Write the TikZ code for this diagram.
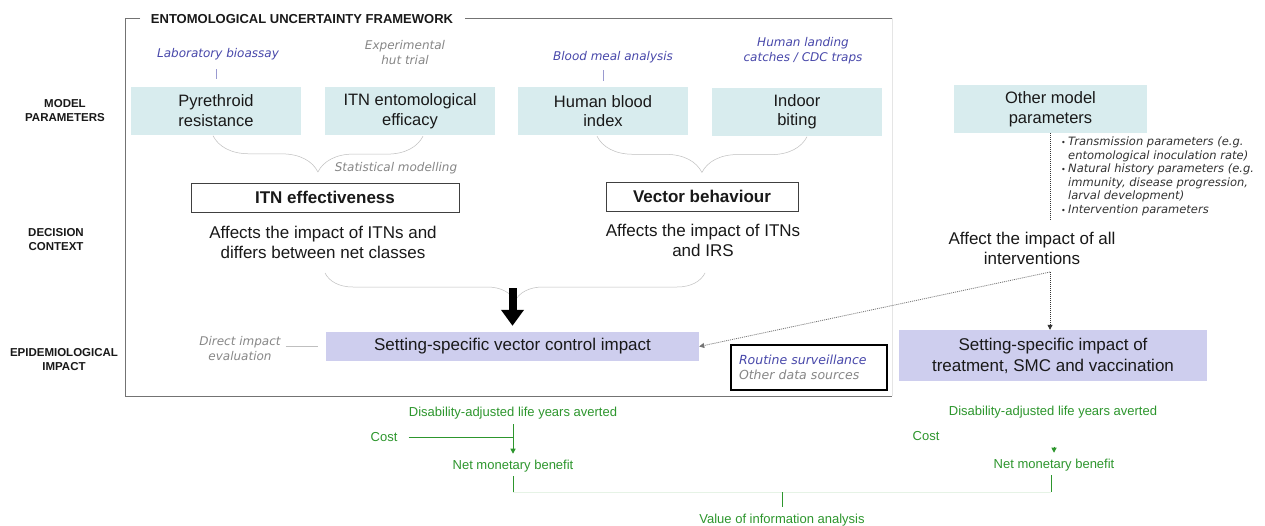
\documentclass[tikz,border=0pt]{standalone}
\usepackage{fontspec}
\setmainfont{Liberation Sans}
\newfontfamily\dv{DejaVu Sans}[ItalicFont={DejaVu Sans Oblique}]
\usetikzlibrary{arrows.meta,decorations.pathreplacing,calc}
\definecolor{parcol}{RGB}{216,236,238}
\definecolor{impcol}{RGB}{206,206,238}
\definecolor{bluetxt}{RGB}{72,72,170}
\definecolor{graytxt}{RGB}{135,135,135}
\definecolor{grn}{RGB}{45,150,45}
\definecolor{txt}{RGB}{25,25,25}
\begin{document}
\begin{tikzpicture}[x=1pt,y=-1pt,
  every node/.style={inner sep=0pt, text=txt},
  parbox/.style={fill=parcol, minimum width=170pt, minimum height=48pt, align=center, font=\fontsize{16.5}{19.5}\selectfont},
  impbox/.style={fill=impcol, align=center, font=\fontsize{17}{21}\selectfont},
  ctxbox/.style={draw=black!75, line width=0.9pt, fill=white, minimum height=29pt, font=\bfseries\fontsize{17}{20}\selectfont},
  ctxtxt/.style={align=center, font=\fontsize{17}{20}\selectfont},
  bluelab/.style={align=center, text=bluetxt, font=\dv\itshape\fontsize{12}{15}\selectfont},
  graylab/.style={align=center, text=graytxt, font=\dv\itshape\fontsize{12}{15}\selectfont},
  rowlab/.style={align=center, font=\bfseries\fontsize{11.5}{14}\selectfont},
  grntxt/.style={text=grn, font=\fontsize{13}{15}\selectfont},
  grnline/.style={draw=grn, line width=1pt},
  grnarrow/.style={grnline, -{Triangle[width=5pt,length=5pt]}},
  bracestyle/.style={draw=black!25, line width=0.5pt, decorate},
  dotline/.style={draw=black!80, line width=0.8pt, dash pattern=on 1pt off 1pt},
  dotarrow/.style={dotline, -{Triangle[width=5pt,length=5pt]}},
]
\useasboundingbox (0,0) rectangle (1265,525);
\fill[white] (0,0) rectangle (1265,525);

% frame
\draw[black!55, line width=0.9pt] (140,18) -- (125,18) -- (125,396) -- (892,396);
\draw[black!55, line width=0.9pt] (465,18) -- (892,18);
\draw[black!10, line width=0.9pt] (892,18) -- (892,396);
\node[font=\bfseries\fontsize{13}{15}\selectfont] (title) at (302,19) {ENTOMOLOGICAL UNCERTAINTY FRAMEWORK};

% row labels
\node[rowlab] (rl1) at (65,110.5) {MODEL\\PARAMETERS};
\node[rowlab] (rl2) at (56,239.5) {DECISION\\CONTEXT};
\node[rowlab] (rl3) at (64,359.5) {EPIDEMIOLOGICAL\\IMPACT};

% parameter boxes
\node[parbox] (pyr) at (216,110.5) {Pyrethroid\\resistance};
\node[parbox] (eff) at (410,111) {ITN entomological\\efficacy};
\node[parbox] (hbi) at (603,111) {Human blood\\index};
\node[parbox] (ind) at (797,111.5) {Indoor\\biting};
\node[parbox, minimum width=193pt] (oth) at (1050.5,109) {Other model\\parameters};

% data sources
\node[bluelab] (lab) at (218,54) {Laboratory bioassay};
\node[graylab] (exp) at (405,52.5) {Experimental\\hut trial};
\node[bluelab] (bma) at (613,57) {Blood meal analysis};
\node[bluelab] (hlc) at (803,50.5) {Human landing\\catches / CDC traps};
\draw[draw=bluetxt!55, line width=0.9pt, shorten <=9pt, shorten >=7pt] (lab.south -| pyr.north) -- (pyr.north);
\draw[draw=bluetxt!55, line width=0.9pt, shorten <=7pt, shorten >=6pt] (bma.south -| hbi.north) -- (hbi.north);

% braces
\draw[bracestyle, decoration={brace, mirror, amplitude=36pt}] ([xshift=-3pt,yshift=-1pt]pyr.south) -- ([xshift=13pt,yshift=-1pt]eff.south);
\draw[bracestyle, decoration={brace, mirror, amplitude=36pt}] ([xshift=-6pt,yshift=-1pt]hbi.south) -- ([xshift=10pt,yshift=-1pt]ind.south);
\node[graylab] (stat) at (396,168) {Statistical modelling};

% decision context
\node[ctxbox, minimum width=268pt] (itn) at (325,197.5) {ITN effectiveness};
\node[ctxbox, minimum width=192pt] (vb) at (702,196.5) {Vector behaviour};
\node[ctxtxt] (itntxt) at (323,242) {Affects the impact of ITNs and\\differs between net classes};
\node[ctxtxt] (vbtxt) at (703,240) {Affects the impact of ITNs\\and IRS};
\coordinate (bl) at (325,273);
\coordinate (br) at (705,273);
\draw[bracestyle, decoration={brace, mirror, amplitude=28pt}] (bl) -- (br);

% epidemiological impact
\node[impbox, minimum width=373pt, minimum height=29pt] (vc) at (512.5,346.5) {Setting-specific vector control impact};
\coordinate (bt) at (512.5,288);
\draw[line width=8pt, -{Triangle[width=22pt,length=16pt]}, black] (bt) -- ([yshift=6pt]vc.north);
\node[graylab] (die) at (240,348.5) {Direct impact\\evaluation};
\draw[black!25, line width=0.9pt, shorten <=5pt, shorten >=8pt] (die.east |- vc.west) -- (vc.west);
\node[draw=black, line width=2pt, minimum height=45pt, text width=140pt, align=left, inner xsep=8pt, font=\dv\itshape\fontsize{12.5}{15}\selectfont] (rs) at (809,367.5) {\textcolor{bluetxt}{Routine surveillance}\\\textcolor{graytxt}{Other data sources}};

% right column
\coordinate (othend) at (1050.5,220);
\draw[dotline] (oth.south) -- (othend);
\node[anchor=north west, align=left, text=black!80, font=\dv\itshape\fontsize{11.5}{13.5}\selectfont] (bul) at (1061,137) {%
\makebox[7pt][l]{\upshape\fontsize{8}{8}\selectfont •}Transmission parameters (e.g.\\
\hspace*{7pt}entomological inoculation rate)\\
\makebox[7pt][l]{\upshape\fontsize{8}{8}\selectfont •}Natural history parameters (e.g.\\
\hspace*{7pt}immunity, disease progression,\\
\hspace*{7pt}larval development)\\
\makebox[7pt][l]{\upshape\fontsize{8}{8}\selectfont •}Intervention parameters};
\node[ctxtxt] (aff) at (1032,248) {Affect the impact of all\\interventions};
\coordinate (affpt) at (1050,272);
\node[impbox, minimum width=308pt, minimum height=51pt] (tr) at (1053,355.5) {Setting-specific impact of\\treatment, SMC and vaccination};
\draw[dotarrow, draw=black!55] (affpt) -- (vc.east);
\draw[dotarrow] (affpt) -- (affpt |- tr.north);

% green economics
\node[grntxt] (daly1) at (513,413) {Disability-adjusted life years averted};
\node[grntxt] (cost1) at (384,437) {Cost};
\node[grntxt] (nmb1) at (513,466) {Net monetary benefit};
\draw[grnline, shorten <=11pt] (cost1.east) -- (cost1.east -| daly1.south);
\draw[grnarrow, shorten <=5pt, shorten >=6pt] (daly1.south) -- (nmb1.north);
\node[grntxt] (daly2) at (1053,412) {Disability-adjusted life years averted};
\node[grntxt] (cost2) at (926,436) {Cost};
\node[grntxt] (nmb2) at (1054,465) {Net monetary benefit};
\draw[grnarrow] ([yshift=12pt]nmb2.north) -- ([yshift=6pt]nmb2.north);
\coordinate (j1) at (513,492);
\coordinate (j2) at (1051,492);
\coordinate (jm) at (782,492);
\node[grntxt] (voi) at (782,520) {Value of information analysis};
\draw[grn!12, line width=0.8pt] (j1) -- (j2);
\draw[grnline, shorten <=4pt] (nmb1.south) -- (j1);
\draw[grnline, shorten <=4pt] (nmb2.south -| j2) -- (j2);
\draw[grnline] (jm) -- ([yshift=7pt]voi.north);
\end{tikzpicture}
\end{document}
